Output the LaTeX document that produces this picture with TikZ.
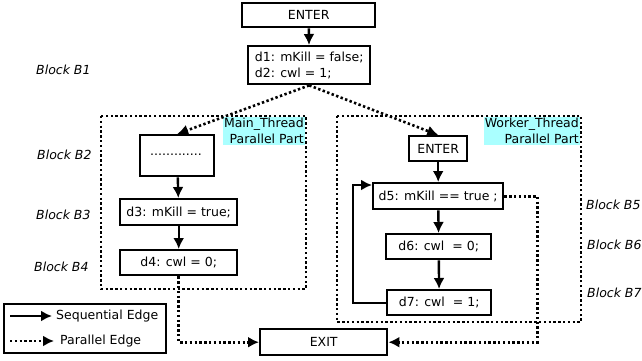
\documentclass[tikz,border=0pt]{standalone}
\usepackage{fontspec}
\setmainfont{DejaVu Sans}
\usetikzlibrary{arrows.meta}
\definecolor{lcyan}{RGB}{170,255,255}
\begin{document}
\begin{tikzpicture}[x=1pt,y=-1pt,
  font=\fontsize{12.5}{16}\selectfont,
  box/.style={draw, line width=2.4pt, inner sep=0pt, anchor=north west},
  seq/.style={line width=2.4pt, -{Latex[length=11pt,width=11pt]}},
  par/.style={line width=2.6pt, dash pattern=on 2.4pt off 2.4pt, -{Latex[length=11pt,width=11pt]}},
  region/.style={line width=2.6pt, dash pattern=on 2.4pt off 2.4pt},
  tag/.style={fill=lcyan, inner sep=1pt, align=right, anchor=north east},
  blk/.style={font=\fontsize{12.5}{15}\selectfont\itshape, anchor=west, inner sep=0pt}]
\useasboundingbox (0,0) rectangle (642,360);
% regions
\draw[region] (101,116) rectangle (306,289);
\draw[region] (337,116) rectangle (581,322);
\node[tag] (mtag) at (305,117) {Main\_Thread\\Parallel Part};
\node[tag] (wtag) at (580,117) {Worker\_Thread\\Parallel Part};
% boxes
\node[box, minimum width=133, minimum height=24] (enter) at (241,2) {ENTER};
\node[box, minimum width=122, minimum height=38, align=left] (d1) at (247,45) {d1: mKill = false;\\d2: cwl = 1;};
\node[box, minimum width=74, minimum height=41] (dots) at (139,134) {};
\node[inner sep=0pt, anchor=base] (dotstxt) at (176,155) {.............};
\node[box, minimum width=117, minimum height=26] (d3) at (119,198) {d3: mKill = true;};
\node[box, minimum width=117, minimum height=25] (d4) at (119,249) {d4: cwl = 0;};
\node[box, minimum width=58, minimum height=25] (wenter) at (408,135) {ENTER};
\node[box, minimum width=130, minimum height=26] (d5) at (372,182) {d5: mKill == true ;};
\node[box, minimum width=105, minimum height=25] (d6) at (385,233) {d6: cwl\ \ = 0;};
\node[box, minimum width=104, minimum height=25] (d7) at (386,289) {d7: cwl\ \ = 1;};
\node[box, minimum width=127, minimum height=26] (exit) at (259,328) {EXIT};
% block labels
\node[blk] (b1) at (36,70) {Block B1};
\node[blk] (b2) at (37,155) {Block B2};
\node[blk] (b3) at (36,215) {Block B3};
\node[blk] (b4) at (34,267) {Block B4};
\node[blk] (b5) at (586,205) {Block B5};
\node[blk] (b6) at (587,245) {Block B6};
\node[blk] (b7) at (587,293) {Block B7};
% edges
\draw[seq] (enter) -- (d1);
\draw[par] (d1.south) -- (dots.north);
\draw[par] (d1.south) -- (wenter.north);
\draw[seq] (dots) -- (d3);
\draw[seq] (d3) -- (d4);
\draw[par] (d4.south) |- (exit.west);
\draw[seq] (wenter) -- (d5);
\draw[seq] (d5) -- (d6);
\draw[seq] (d6) -- (d7);
\draw[seq] (d7.west) -- ++(-33,0) |- ([yshift=-3pt]d5.north west);
\draw[par] (d5.east) -- ++(33,0) |- (exit.east);
% legend
\node[box, minimum width=162, minimum height=49] (legend) at (3,303) {};
\coordinate (ls1) at (10,316);
\coordinate (ls2) at (52,316);
\coordinate (lp1) at (10,341);
\coordinate (lp2) at (54,341);
\draw[seq] (ls1) -- (ls2);
\draw[par] (lp1) -- (lp2);
\node[anchor=west, inner sep=0pt] (lseq) at (56,316) {Sequential Edge};
\node[anchor=west, inner sep=0pt] (lpar) at (60,341) {Parallel Edge};
\end{tikzpicture}
\end{document}
